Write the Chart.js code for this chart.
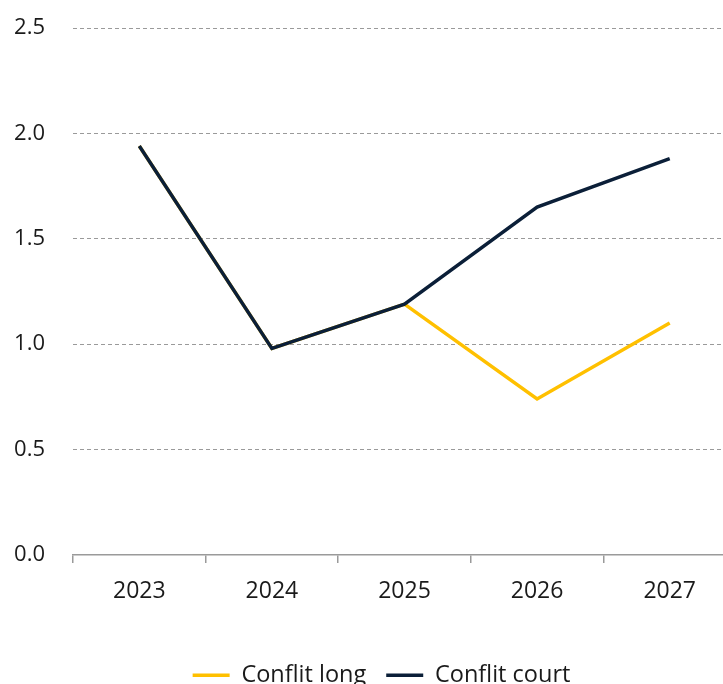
<!DOCTYPE html>
<html>
<head>
<meta charset="utf-8">
<script src="https://cdn.jsdelivr.net/npm/chart.js@4/dist/chart.umd.min.js"></script>
<style>
  html, body { margin: 0; padding: 0; overflow: hidden; background: #fff; }
  #wrap { position: relative; width: 763px; height: 684px; }
</style>
</head>
<body>
<div id="wrap"><canvas id="c"></canvas></div>
<script>
const categories = ['2023', '2024', '2025', '2026', '2027'];
const conflitCourt = [1.94, 0.98, 1.19, 1.65, 1.88];
const conflitLong = [1.94, 0.98, 1.19, 0.74, 1.10];
const seriesNames = ['Conflit long', 'Conflit court'];
const yTicks = [0, 0.5, 1.0, 1.5, 2.0, 2.5];

const NAVY = '#0b1f38';
const YELLOW = '#ffc000';
const GRID = '#9a9a9a';
const TEXT = '#1a1a1a';
const FONT = "'Open Sans', 'Noto Sans', sans-serif";

const legendShift = {
  id: 'legendShift',
  afterLayout(chart) {
    if (chart.legend) { chart.legend.left += 8.5; chart.legend.right += 8.5; }
  }
};

new Chart(document.getElementById('c'), {
  type: 'line',
  data: {
    labels: categories,
    datasets: [
      { label: seriesNames[1], data: conflitCourt, borderColor: NAVY, backgroundColor: NAVY,
        borderWidth: 3.5, pointRadius: 0, tension: 0 },
      { label: seriesNames[0], data: conflitLong, borderColor: YELLOW, backgroundColor: YELLOW,
        borderWidth: 3.5, pointRadius: 0, tension: 0 }
    ]
  },
  plugins: [legendShift],
  options: {
    responsive: true,
    maintainAspectRatio: false,
    animation: false,
    layout: { padding: { top: 28, left: 10, right: 27, bottom: -13 } },
    plugins: {
      tooltip: { enabled: false },
      legend: {
        position: 'bottom',
        labels: {
          font: { family: FONT, size: 23.5 },
          color: TEXT,
          boxWidth: 37,
          boxHeight: 3.5,
          padding: 20,
          sort: (a, b) => b.datasetIndex - a.datasetIndex,
          generateLabels: (chart) => {
            const items = Chart.defaults.plugins.legend.labels.generateLabels(chart);
            items.forEach(it => { it.lineWidth = 0; it.strokeStyle = 'rgba(0,0,0,0)'; });
            return items;
          }
        }
      }
    },
    scales: {
      x: {
        offset: true,
        grid: { display: true, offset: true, drawOnChartArea: false, drawTicks: true, tickLength: 8, color: GRID, lineWidth: 1.5 },
        border: { display: true, color: GRID, width: 1.5 },
        ticks: { font: { family: FONT, size: 23 }, color: TEXT, padding: 15 },
        afterFit: (s) => { s.height += 23; }
      },
      y: {
        min: 0, max: 2.5,
        afterBuildTicks: (axis) => { axis.ticks = yTicks.map(v => ({ value: v })); },
        afterFit: (s) => { s.width = 63; s.paddingTop = 0; s.paddingBottom = 0; },
        grid: { color: GRID, drawTicks: false, lineWidth: 1 },
        border: { display: false, dash: [4, 3] },
        ticks: { font: { family: FONT, size: 22 }, color: TEXT, padding: 28,
                 callback: (v) => Number(v).toFixed(1) }
      }
    }
  }
});
</script>
</body>
</html>
